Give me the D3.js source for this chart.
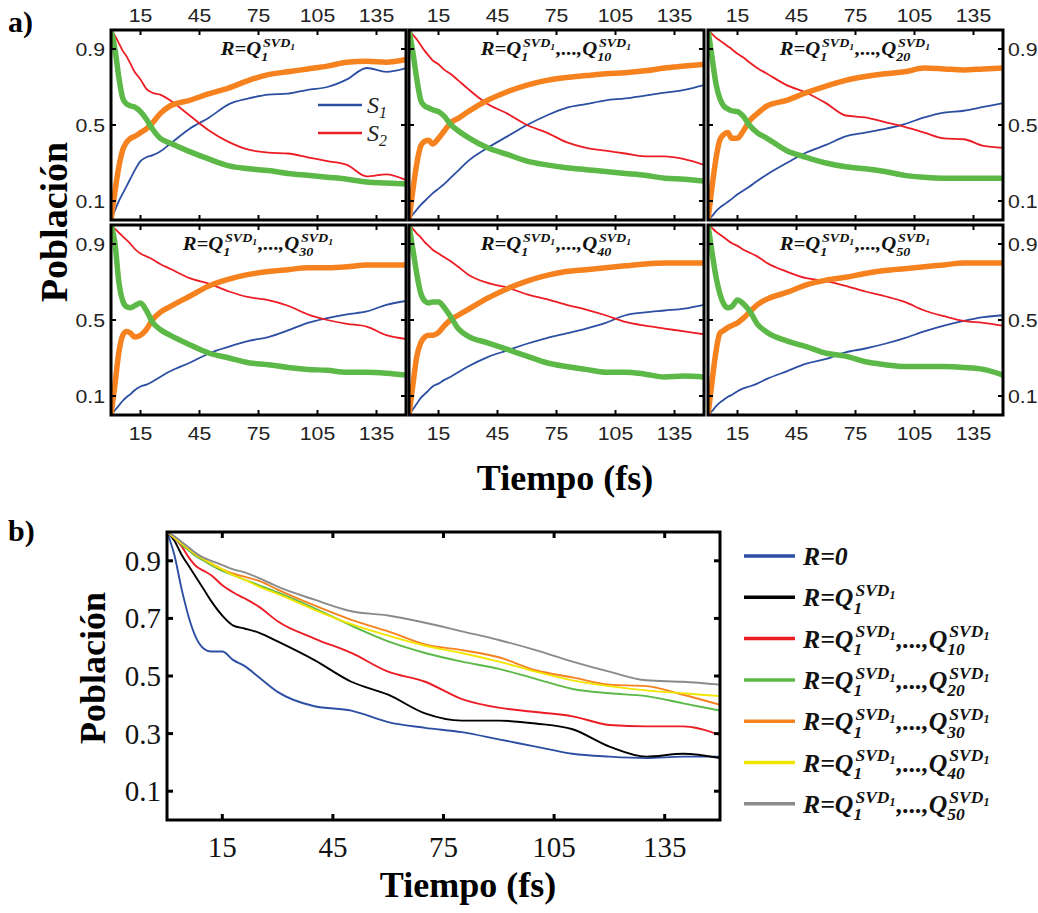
<!DOCTYPE html>
<html><head><meta charset="utf-8">
<script src="https://cdn.jsdelivr.net/npm/d3@7"></script>
<style>body{margin:0;background:#fff} svg{display:block}</style>
</head><body><svg id="c" width="1038" height="913"></svg>
<script>
// ---------- DATA ----------
const times = [0,2,4,6,8,10,12,15,18,21,25,30,40,50,60,70,80,90,100,110,120,130,140,150];
const xTicks = [15,45,75,105,135];
const yTicksA = [0.1,0.5,0.9];
const yTicksB = [0.1,0.3,0.5,0.7,0.9];
const panelN = [null,"10","20","30","40","50"];

// panel a) R=Q1
const q1S2     = [1.0,0.97,0.93,0.89,0.86,0.82,0.78,0.74,0.69,0.67,0.66,0.63,0.55,0.47,0.41,0.37,0.355,0.35,0.33,0.31,0.29,0.23,0.24,0.21];
const q1S1     = [0,0.05,0.10,0.14,0.18,0.22,0.26,0.31,0.33,0.34,0.36,0.40,0.48,0.54,0.61,0.64,0.66,0.665,0.685,0.70,0.74,0.80,0.78,0.80];
const q1Orange = [0,0.15,0.28,0.37,0.41,0.43,0.44,0.46,0.48,0.51,0.56,0.60,0.63,0.665,0.695,0.735,0.765,0.78,0.795,0.81,0.83,0.835,0.83,0.845];
const q1Green  = [1.0,0.90,0.75,0.64,0.61,0.60,0.595,0.57,0.53,0.48,0.43,0.405,0.36,0.32,0.285,0.27,0.26,0.245,0.235,0.225,0.215,0.20,0.195,0.19];
// R=Q1..Q10
const q10S2     = [1.0,0.975,0.95,0.92,0.89,0.865,0.84,0.82,0.79,0.77,0.735,0.69,0.61,0.56,0.50,0.46,0.41,0.38,0.365,0.35,0.335,0.335,0.32,0.29];
const q10S1     = [0,0.03,0.055,0.08,0.10,0.12,0.14,0.165,0.19,0.22,0.26,0.31,0.38,0.44,0.50,0.55,0.59,0.61,0.63,0.64,0.655,0.67,0.685,0.71];
const q10Orange = [0,0.16,0.30,0.39,0.415,0.42,0.40,0.43,0.47,0.51,0.535,0.57,0.63,0.675,0.71,0.735,0.75,0.76,0.77,0.775,0.785,0.80,0.81,0.82];
const q10Green  = [1.0,0.88,0.74,0.63,0.60,0.59,0.58,0.57,0.545,0.505,0.47,0.435,0.38,0.345,0.31,0.29,0.275,0.265,0.255,0.245,0.235,0.22,0.215,0.205];
// R=Q1..Q20
const q20S2     = [1.0,0.98,0.96,0.945,0.93,0.915,0.90,0.875,0.855,0.83,0.80,0.77,0.71,0.67,0.615,0.55,0.54,0.515,0.49,0.46,0.43,0.425,0.39,0.38];
const q20S1     = [0,0.02,0.045,0.065,0.08,0.095,0.11,0.135,0.155,0.175,0.205,0.24,0.30,0.355,0.395,0.44,0.46,0.48,0.505,0.54,0.565,0.575,0.595,0.615];
const q20Orange = [0,0.17,0.32,0.42,0.45,0.46,0.43,0.43,0.47,0.52,0.56,0.60,0.63,0.67,0.705,0.735,0.755,0.77,0.78,0.80,0.795,0.79,0.795,0.80];
const q20Green  = [1.0,0.86,0.72,0.64,0.60,0.585,0.575,0.57,0.545,0.50,0.46,0.43,0.365,0.33,0.30,0.28,0.27,0.255,0.235,0.225,0.22,0.22,0.22,0.22];
// R=Q1..Q30
const q30S2     = [1.0,0.98,0.96,0.94,0.92,0.90,0.875,0.85,0.835,0.82,0.795,0.77,0.72,0.69,0.65,0.62,0.605,0.575,0.53,0.50,0.48,0.465,0.42,0.40];
const q30S1     = [0,0.025,0.05,0.075,0.095,0.11,0.13,0.15,0.16,0.175,0.20,0.23,0.275,0.325,0.36,0.39,0.41,0.445,0.485,0.51,0.53,0.545,0.58,0.60];
const q30Orange = [0,0.16,0.33,0.42,0.44,0.43,0.41,0.42,0.45,0.50,0.54,0.57,0.625,0.68,0.715,0.74,0.755,0.765,0.775,0.775,0.78,0.79,0.79,0.79];
const q30Green  = [1.0,0.905,0.70,0.60,0.57,0.565,0.575,0.59,0.55,0.49,0.45,0.42,0.37,0.325,0.30,0.275,0.265,0.25,0.24,0.235,0.225,0.225,0.22,0.21];
// R=Q1..Q40
const q40S2     = [1.0,0.98,0.955,0.935,0.91,0.89,0.87,0.85,0.83,0.81,0.78,0.74,0.695,0.67,0.635,0.61,0.58,0.555,0.525,0.49,0.47,0.455,0.44,0.425];
const q40S1     = [0,0.03,0.06,0.09,0.11,0.13,0.15,0.165,0.185,0.20,0.225,0.255,0.305,0.34,0.375,0.405,0.43,0.455,0.485,0.525,0.54,0.55,0.56,0.58];
const q40Orange = [0,0.16,0.31,0.38,0.41,0.42,0.42,0.435,0.47,0.50,0.525,0.555,0.615,0.665,0.705,0.735,0.755,0.765,0.775,0.785,0.795,0.80,0.80,0.80];
const q40Green  = [1.0,0.87,0.74,0.64,0.60,0.59,0.595,0.595,0.565,0.52,0.455,0.415,0.38,0.345,0.31,0.275,0.255,0.24,0.225,0.225,0.215,0.20,0.205,0.20];
// R=Q1..Q50
const q50S2     = [1.0,0.985,0.965,0.95,0.935,0.92,0.905,0.89,0.87,0.855,0.835,0.80,0.755,0.72,0.705,0.68,0.65,0.625,0.595,0.55,0.52,0.495,0.485,0.47];
const q50S1     = [0,0.02,0.045,0.065,0.08,0.095,0.105,0.125,0.14,0.15,0.165,0.19,0.23,0.27,0.295,0.33,0.35,0.375,0.405,0.44,0.47,0.495,0.515,0.525];
const q50Orange = [0,0.17,0.33,0.43,0.445,0.46,0.47,0.485,0.51,0.54,0.58,0.61,0.645,0.685,0.71,0.725,0.745,0.76,0.77,0.78,0.79,0.80,0.80,0.80];
const q50Green  = [1.0,0.86,0.73,0.64,0.585,0.565,0.57,0.605,0.585,0.55,0.48,0.435,0.39,0.36,0.325,0.31,0.28,0.265,0.255,0.255,0.255,0.25,0.24,0.21];

// panel b) population of S2
const bR0  = [1.0,0.92,0.80,0.70,0.63,0.595,0.585,0.585,0.555,0.535,0.495,0.445,0.395,0.38,0.34,0.32,0.305,0.28,0.255,0.23,0.22,0.215,0.22,0.22];
const bQ1  = [1.0,0.97,0.92,0.88,0.84,0.80,0.76,0.71,0.675,0.665,0.65,0.62,0.555,0.48,0.435,0.37,0.345,0.345,0.335,0.315,0.255,0.22,0.23,0.215];
const bQ10 = [1.0,0.98,0.95,0.91,0.88,0.865,0.85,0.815,0.79,0.77,0.74,0.69,0.63,0.58,0.515,0.48,0.42,0.39,0.375,0.36,0.33,0.325,0.325,0.295];
const bQ20 = [1.0,0.98,0.955,0.935,0.915,0.90,0.885,0.865,0.85,0.835,0.815,0.79,0.735,0.675,0.62,0.58,0.55,0.525,0.49,0.455,0.44,0.43,0.405,0.38];
const bQ30 = [1.0,0.98,0.96,0.94,0.92,0.905,0.89,0.87,0.855,0.845,0.83,0.80,0.745,0.695,0.655,0.61,0.59,0.565,0.52,0.495,0.47,0.465,0.435,0.40];
const bQ40 = [1.0,0.98,0.96,0.94,0.92,0.905,0.89,0.87,0.85,0.835,0.81,0.785,0.73,0.68,0.64,0.605,0.58,0.55,0.515,0.485,0.465,0.45,0.44,0.43];
const bQ50 = [1.0,0.985,0.965,0.945,0.925,0.91,0.90,0.885,0.87,0.86,0.84,0.81,0.765,0.725,0.71,0.685,0.655,0.625,0.59,0.55,0.515,0.485,0.48,0.47];
const bLegendN = ["0", null, "10", "20", "30", "40", "50"];

// ---------- STYLE ----------
const C = {blue:"#2c4fa3", red:"#ec1c24", orange:"#f6821f", green:"#5cb947", yellow:"#f2e500", gray:"#8a8a8a", black:"#000"};
const SERIF = "'Liberation Serif','Times New Roman',serif";
const SANS = "'Liberation Sans',Arial,sans-serif";

const panels = [
  {n:panelN[0], s1:q1S1,  s2:q1S2,  o:q1Orange,  g:q1Green},
  {n:panelN[1], s1:q10S1, s2:q10S2, o:q10Orange, g:q10Green},
  {n:panelN[2], s1:q20S1, s2:q20S2, o:q20Orange, g:q20Green},
  {n:panelN[3], s1:q30S1, s2:q30S2, o:q30Orange, g:q30Green},
  {n:panelN[4], s1:q40S1, s2:q40S2, o:q40Orange, g:q40Green},
  {n:panelN[5], s1:q50S1, s2:q50S2, o:q50Orange, g:q50Green}
];
const bSeries = [
  {v:bR0, c:C.blue}, {v:bQ1, c:C.black}, {v:bQ10, c:C.red}, {v:bQ20, c:C.green},
  {v:bQ30, c:C.orange}, {v:bQ40, c:C.yellow}, {v:bQ50, c:C.gray}
];

const svg = d3.select("#c");

// rich label  R=Q1^{SVD1},...,Qn^{SVD1}
function richLabel(parent, x, y, n, size, anchor, zero, sx) {
  const g = parent.append("g");
  let cx = 0;
  function piece(str, px, py, fs) {
    const t = g.append("text").attr("x", px).attr("y", py).attr("font-size", fs)
      .attr("font-family", SERIF).attr("font-weight", "bold").attr("font-style", "italic")
      .attr("fill", "#111").text(str);
    return t.node().getComputedTextLength();
  }
  function q(sub) {
    const ss = size * 0.68, sss = size * 0.47;
    const w1 = piece(sub, cx, size * 0.3, ss);
    const w2 = piece("SVD", cx + size*0.08, -size * 0.42, ss);
    const w3 = piece("1", cx + size*0.08 + w2, -size * 0.42 + size * 0.13, sss);
    cx += Math.max(w1, size*0.08 + w2 + w3) + 1;
  }
  if (zero) {
    cx += piece("R=0", cx, 0, size);
  } else {
    cx += piece("R=Q", cx, 0, size);
    q("1");
    if (n) { cx += piece(",...,Q", cx, 0, size); q(n); }
  }
  const shift = anchor === "middle" ? -cx * sx / 2 : 0;
  g.attr("transform", `translate(${x + shift},${y}) scale(${sx},1)`);
}

function sansLabel(parent, x, y, txt, anchor) {
  parent.append("text").attr("transform", `translate(${x},${y}) scale(1.12,1)`).attr("text-anchor", anchor)
    .attr("font-family", SANS).attr("font-size", 19).attr("fill", "#222").text(txt);
}

// ---------- PANEL a ----------
const colX = [111, 409, 708], rowY = [30, 225], pw = 295, ph = 190;
const xa = d3.scaleLinear().domain([0, 150]).range([0, pw]);
const ya = d3.scaleLinear().domain([0, 1]).range([ph, 0]);
const lineA = (vals) => d3.line().x((d, i) => xa(times[i])).y(d => ya(d)).curve(d3.curveMonotoneX)(vals);

svg.append("defs").append("clipPath").attr("id", "clipA")
  .append("rect").attr("x", 0).attr("y", 0).attr("width", pw).attr("height", ph);

panels.forEach((p, k) => {
  const col = k % 3, row = Math.floor(k / 3);
  const g = svg.append("g").attr("transform", `translate(${colX[col]},${rowY[row]})`);
  const cg = g.append("g").attr("clip-path", "url(#clipA)");
  cg.append("path").attr("d", lineA(p.s1)).attr("fill", "none").attr("stroke", C.blue).attr("stroke-width", 1.8);
  cg.append("path").attr("d", lineA(p.s2)).attr("fill", "none").attr("stroke", C.red).attr("stroke-width", 1.8);
  cg.append("path").attr("d", lineA(p.o)).attr("fill", "none").attr("stroke", C.orange).attr("stroke-width", 5.5).attr("stroke-linejoin","round");
  cg.append("path").attr("d", lineA(p.g)).attr("fill", "none").attr("stroke", C.green).attr("stroke-width", 5.5).attr("stroke-linejoin","round");

  // ticks (inward, all sides)
  const tk = g.append("g").attr("stroke", "#000").attr("stroke-width", 2);
  xTicks.forEach(t => {
    tk.append("line").attr("x1", xa(t)).attr("x2", xa(t)).attr("y1", ph).attr("y2", ph - 5);
    tk.append("line").attr("x1", xa(t)).attr("x2", xa(t)).attr("y1", 0).attr("y2", 5);
  });
  yTicksA.forEach(t => {
    tk.append("line").attr("x1", 0).attr("x2", 5).attr("y1", ya(t)).attr("y2", ya(t));
    tk.append("line").attr("x1", pw).attr("x2", pw - 5).attr("y1", ya(t)).attr("y2", ya(t));
  });
  g.append("rect").attr("x", 0).attr("y", 0).attr("width", pw).attr("height", ph)
    .attr("fill", "none").attr("stroke", "#000").attr("stroke-width", 3);

  // tick labels
  if (row === 0) xTicks.forEach(t => sansLabel(g, xa(t), -8, t, "middle"));
  if (row === 1) xTicks.forEach(t => sansLabel(g, xa(t), ph + 25, t, "middle"));
  if (col === 0) yTicksA.forEach(t => sansLabel(g, -6, ya(t) + 7, t.toFixed(1), "end"));
  if (col === 2) yTicksA.forEach(t => sansLabel(g, 300, ya(t) + 7, t.toFixed(1), "start"));

  richLabel(g, pw / 2, 25, p.n, 18.5, "middle", false, 1.12);

  if (k === 0) {
    const lg = g.append("g");
    [[C.blue, "1", 75], [C.red, "2", 103]].forEach(([c, s, yy]) => {
      lg.append("line").attr("x1", 207).attr("x2", 251).attr("y1", yy).attr("y2", yy).attr("stroke", c).attr("stroke-width", 2.5);
      const t = lg.append("text").attr("x", 256).attr("y", yy + 8).attr("font-family", SERIF).attr("font-style", "italic")
        .attr("font-size", 24).attr("fill", "#222");
      t.append("tspan").text("S");
      t.append("tspan").attr("dy", 5).attr("font-size", 16).text(s);
    });
  }
});

// a) labels
svg.append("text").attr("x", 8).attr("y", 32).attr("font-family", SERIF).attr("font-weight", "bold").attr("font-size", 30).text("a)");
svg.append("text").attr("transform", "translate(67,222) rotate(-90)").attr("text-anchor", "middle")
  .attr("font-family", SERIF).attr("font-weight", "bold").attr("font-size", 38).text("Población");
svg.append("text").attr("x", 565).attr("y", 490).attr("text-anchor", "middle")
  .attr("font-family", SERIF).attr("font-weight", "bold").attr("font-size", 36).text("Tiempo (fs)");

// ---------- PANEL b ----------
const bx0 = 167, by0 = 532, bw = 553, bh = 288;
const xb = d3.scaleLinear().domain([0, 150]).range([0, bw]);
const yb = d3.scaleLinear().domain([0, 1]).range([bh, 0]);
const gb = svg.append("g").attr("transform", `translate(${bx0},${by0})`);
svg.select("defs").append("clipPath").attr("id", "clipB")
  .append("rect").attr("x", 0).attr("y", 0).attr("width", bw).attr("height", bh);
const lineB = (vals) => d3.line().x((d, i) => xb(times[i])).y(d => yb(d)).curve(d3.curveMonotoneX)(vals);
const cb = gb.append("g").attr("clip-path", "url(#clipB)");
bSeries.forEach(s => cb.append("path").attr("d", lineB(s.v)).attr("fill", "none").attr("stroke", s.c).attr("stroke-width", 1.9));

const tkb = gb.append("g").attr("stroke", "#000").attr("stroke-width", 3);
xTicks.forEach(t => {
  tkb.append("line").attr("x1", xb(t)).attr("x2", xb(t)).attr("y1", bh).attr("y2", bh - 6);
  tkb.append("line").attr("x1", xb(t)).attr("x2", xb(t)).attr("y1", 0).attr("y2", 6);
});
yTicksB.forEach(t => {
  tkb.append("line").attr("x1", 0).attr("x2", 6).attr("y1", yb(t)).attr("y2", yb(t));
  tkb.append("line").attr("x1", bw).attr("x2", bw - 6).attr("y1", yb(t)).attr("y2", yb(t));
});
gb.append("rect").attr("width", bw).attr("height", bh).attr("fill", "none").attr("stroke", "#000").attr("stroke-width", 3);
xTicks.forEach(t => gb.append("text").attr("x", xb(t)).attr("y", bh + 37).attr("text-anchor", "middle")
  .attr("font-family", SERIF).attr("font-size", 29).attr("fill", "#111").text(t));
yTicksB.forEach(t => gb.append("text").attr("x", -6).attr("y", yb(t) + 10).attr("text-anchor", "end")
  .attr("font-family", SERIF).attr("font-size", 29).attr("fill", "#111").text(t.toFixed(1)));

svg.append("text").attr("x", 8).attr("y", 541).attr("font-family", SERIF).attr("font-weight", "bold").attr("font-size", 30).text("b)");
svg.append("text").attr("transform", "translate(105,668) rotate(-90)").attr("text-anchor", "middle")
  .attr("font-family", SERIF).attr("font-weight", "bold").attr("font-size", 36).text("Población");
svg.append("text").attr("x", 468).attr("y", 897).attr("text-anchor", "middle")
  .attr("font-family", SERIF).attr("font-weight", "bold").attr("font-size", 36).text("Tiempo (fs)");

// legend b
bSeries.forEach((s, i) => {
  const yy = 556 + i * 41.3;
  svg.append("line").attr("x1", 744).attr("x2", 795).attr("y1", yy).attr("y2", yy).attr("stroke", s.c).attr("stroke-width", 3.5);
  richLabel(svg, 803, yy + 9, bLegendN[i] === "0" ? null : bLegendN[i], 24.5, "start", bLegendN[i] === "0", 1.05);
});
</script></body></html>
